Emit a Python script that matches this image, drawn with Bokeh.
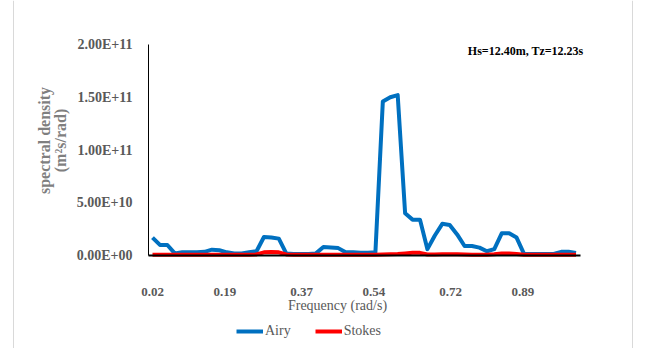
import math
from bokeh.plotting import figure
from bokeh.models import Range1d, FixedTicker, Label, Legend, LegendItem, Span
from bokeh.embed import file_html
from bokeh.resources import INLINE

# ---- data ----
freq_start = 0.02
freq_step = 0.01745
n_points = 58
frequency = [round(freq_start + k * freq_step, 5) for k in range(n_points)]

airy = [17, 10, 10, 2, 3, 3, 3, 3.5, 5.5, 5, 3, 2, 2, 3, 4, 17.5, 17, 16, 2, 1.5,
        1.5, 1.5, 2, 8, 7.5, 7, 3, 3, 2.5, 2.5, 3, 146, 150, 152, 40, 34, 34, 6, 19, 30,
        29, 20, 9, 9, 7.5, 4, 6, 21, 21, 17, 1.5, 1.5, 1.5, 1.5, 1.5, 3.5, 3.5, 2.5]
airy = [v * 1e9 for v in airy]

stokes = [0.8, 0.8, 0.8, 0.6, 0.6, 0.6, 0.6, 0.6, 0.8, 0.8, 0.6, 0.6, 0.6, 0.6, 1.0, 3.0, 3.2, 3.0, 1.0, 0.6,
          0.6, 0.6, 0.6, 0.8, 0.8, 0.8, 0.6, 0.6, 0.6, 0.6, 0.6, 1.0, 1.2, 1.5, 2.0, 2.5, 2.5, 1.0, 1.0, 1.2,
          1.2, 1.2, 1.0, 0.8, 0.8, 0.8, 1.2, 2.0, 2.0, 1.5, 0.8, 0.6, 0.6, 0.6, 0.6, 0.8, 0.8, 0.6]
stokes = [v * 1e9 for v in stokes]

x_tick_values = [0.02, 0.19, 0.37, 0.54, 0.72, 0.89]
x_tick_labels = ["0.02", "0.19", "0.37", "0.54", "0.72", "0.89"]
y_tick_values = [0, 5e10, 1e11, 1.5e11, 2e11]
y_tick_labels = ["0.00E+00", "5.00E+10", "1.00E+11", "1.50E+11", "2.00E+11"]

title_text = "Hs=12.40m, Tz=12.23s"
x_title = "Frequency (rad/s)"
y_title_1 = "spectral density"
y_title_2 = "(m\u00b2s/rad)"

# ---- layout geometry (pixels on the canvas) ----
W, H = 640, 348
FONT = "Liberation Serif"
GRAY = "#595959"

PX_X = 425.8            # pixels per rad/s
PX_Y = 211.0 / 2e11     # pixels per unit of density
X_AT_0 = 152.0          # canvas x of 0.02 rad/s
Y_AT_0 = 255.0          # canvas y of density 0

def dx(px):   # canvas x -> data x
    return 0.02 + (px - X_AT_0) / PX_X

def dy(py):   # canvas y -> data y
    return (Y_AT_0 - py) / PX_Y

x_axis_start = dx(148)
x_axis_end = dx(580)

p = figure(width=W, height=H, output_backend="svg", toolbar_location=None,
           x_range=Range1d(dx(0), dx(W)), y_range=Range1d(dy(H), dy(0)),
           min_border=0, min_border_left=0, min_border_right=0,
           min_border_top=0, min_border_bottom=0)
p.outline_line_color = None
p.xgrid.visible = False
p.ygrid.visible = False
p.background_fill_color = "white"
p.border_fill_color = "white"

# axes drawn at fixed positions inside the canvas
p.xaxis.fixed_location = 0
p.xaxis.bounds = (x_axis_start, x_axis_end)
p.yaxis.fixed_location = x_axis_start
p.yaxis.bounds = (0, 2e11)

p.xaxis.ticker = FixedTicker(ticks=x_tick_values)
p.xaxis.major_label_overrides = {v: l for v, l in zip(x_tick_values, x_tick_labels)}
p.yaxis.ticker = FixedTicker(ticks=y_tick_values)
p.yaxis.major_label_overrides = {v: l for v, l in zip(y_tick_values, y_tick_labels)}
for ax in (p.xaxis, p.yaxis):
    ax.major_tick_line_color = None
    ax.minor_tick_line_color = None
    ax.major_label_text_font = FONT
    ax.major_label_text_color = GRAY
    ax.major_label_text_font_style = "bold"
    ax.axis_line_color = "black"
p.yaxis.major_label_text_font_size = "14px"
p.xaxis.major_label_text_font_size = "13px"
p.xaxis.axis_line_width = 2
p.yaxis.major_label_standoff = 10
p.xaxis.major_label_standoff = 26

# chart-area border lines
for px in (13, 632):
    p.add_layout(Span(location=dx(px), dimension="height", line_color="#d9d9d9", line_width=1))

# series
r_airy = p.line(frequency, airy, line_color="#0070C0", line_width=4, line_join="round")
r_stokes = p.line(frequency, stokes, line_color="#FF0000", line_width=4, line_join="round")

# texts
p.add_layout(Label(x=dx(583), y=dy(50), text=title_text,
                   text_font=FONT, text_font_size="12px", text_font_style="bold",
                   text_color="black", text_align="right", text_baseline="middle"))
p.add_layout(Label(x=dx(337), y=dy(305), text=x_title,
                   text_font=FONT, text_font_size="14px", text_color=GRAY,
                   text_align="center", text_baseline="middle"))
for txt, px in ((y_title_1, 44), (y_title_2, 60)):
    p.add_layout(Label(x=dx(px), y=dy(140), text=txt, angle=math.pi / 2,
                       text_font=FONT, text_font_size="16px", text_font_style="bold",
                       text_color="#7f7f7f", text_align="center", text_baseline="middle"))

legend = Legend(items=[LegendItem(label="Airy", renderers=[r_airy]),
                       LegendItem(label="Stokes", renderers=[r_stokes])],
                orientation="horizontal", location=(236, H - 339),
                glyph_width=27, glyph_height=16, label_height=16, label_standoff=2,
                spacing=24, padding=0, margin=0, border_line_color=None,
                background_fill_alpha=0,
                label_text_font=FONT, label_text_font_size="14px", label_text_color=GRAY)
p.add_layout(legend, "center")

open("out.html", "w").write(file_html(p, INLINE))
